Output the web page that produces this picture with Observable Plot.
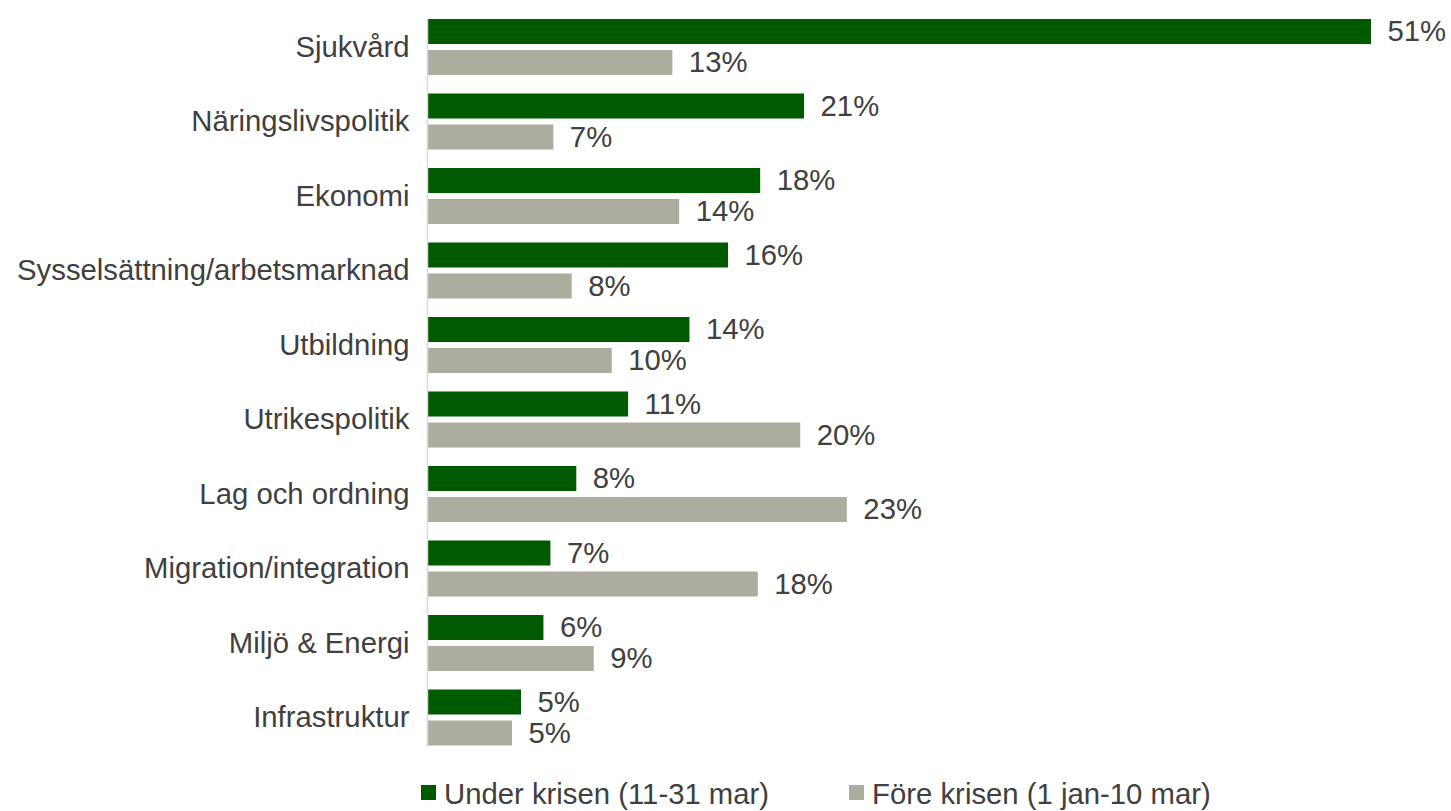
<!DOCTYPE html>
<html>
<head>
<meta charset="utf-8">
<script src="https://cdn.jsdelivr.net/npm/d3@7"></script>
<script src="https://cdn.jsdelivr.net/npm/@observablehq/plot@0.6"></script>
<style>
  html, body { margin: 0; padding: 0; background: #ffffff; }
  #wrap { position: relative; width: 1451px; height: 811px; overflow: hidden; font-family: "Liberation Sans", Arial, sans-serif; }
  #legend { position: absolute; left: 421px; top: 779px; display: flex; gap: 80px; }
  .item { display: flex; align-items: center; height: 30px; font-size: 29.3px; line-height: 30px; color: #404040; white-space: nowrap; }
  .sw { width: 15px; height: 15px; margin-right: 8px; transform: translateY(-2px); }
</style>
</head>
<body>
<div id="wrap"><div id="chart"></div><div id="legend"></div></div>
<script>
const categories = ["Sjukvård", "Näringslivspolitik", "Ekonomi", "Sysselsättning/arbetsmarknad", "Utbildning", "Utrikespolitik", "Lag och ordning", "Migration/integration", "Miljö & Energi", "Infrastruktur"];
const seriesNames = ["Under krisen (11-31 mar)", "Före krisen (1 jan-10 mar)"];
const seriesColors = ["#005a00", "#adad9f"];
const underValues = [51.4, 20.53, 18.14, 16.39, 14.29, 10.95, 8.13, 6.72, 6.34, 5.12];
const foreValues = [13.36, 6.88, 13.73, 7.88, 10.06, 20.32, 22.86, 18.01, 9.08, 4.63];
const underLabels = ["51%", "21%", "18%", "16%", "14%", "11%", "8%", "7%", "6%", "5%"];
const foreLabels = ["13%", "7%", "14%", "8%", "10%", "20%", "23%", "18%", "9%", "5%"];

const data = categories.flatMap((c, i) => [
  {cat: c, series: seriesNames[0], value: underValues[i], label: underLabels[i]},
  {cat: c, series: seriesNames[1], value: foreValues[i], label: foreLabels[i]}
]);

const chart = Plot.plot({
  width: 1451,
  height: 765,
  marginLeft: 427,
  marginRight: 80,
  marginTop: 9.75,
  marginBottom: 10.25,
  style: {fontFamily: "'Liberation Sans', Arial, sans-serif", color: "#404040", background: "#ffffff"},
  x: {domain: [0, 51.4], axis: null},
  fy: {domain: categories, paddingInner: 0.248, paddingOuter: 0.124, round: false, label: null},
  y: {domain: seriesNames, paddingInner: 6 / 31, paddingOuter: 0, round: false, axis: null},
  color: {domain: seriesNames, range: seriesColors},
  marks: [
    Plot.barX(data, {fy: "cat", y: "series", x: "value", fill: "series"}),
    Plot.text(data, {fy: "cat", y: "series", x: "value", text: "label", textAnchor: "start", dx: 16, fontSize: 29.3, fill: "#404040"}),
    Plot.frame({anchor: "left", facet: "super", stroke: "#d9d9d9", strokeWidth: 1.5}),
    Plot.axisFy({anchor: "left", tickSize: 0, tickPadding: 18, fontSize: 29.3, label: null, color: "#404040"})
  ]
});
document.getElementById("chart").appendChild(chart);

const legend = document.getElementById("legend");
seriesNames.forEach((name, i) => {
  const item = document.createElement("div");
  item.className = "item";
  const sw = document.createElement("span");
  sw.className = "sw";
  sw.style.background = seriesColors[i];
  const lbl = document.createElement("span");
  lbl.textContent = name;
  item.appendChild(sw);
  item.appendChild(lbl);
  legend.appendChild(item);
});
</script>
</body>
</html>
